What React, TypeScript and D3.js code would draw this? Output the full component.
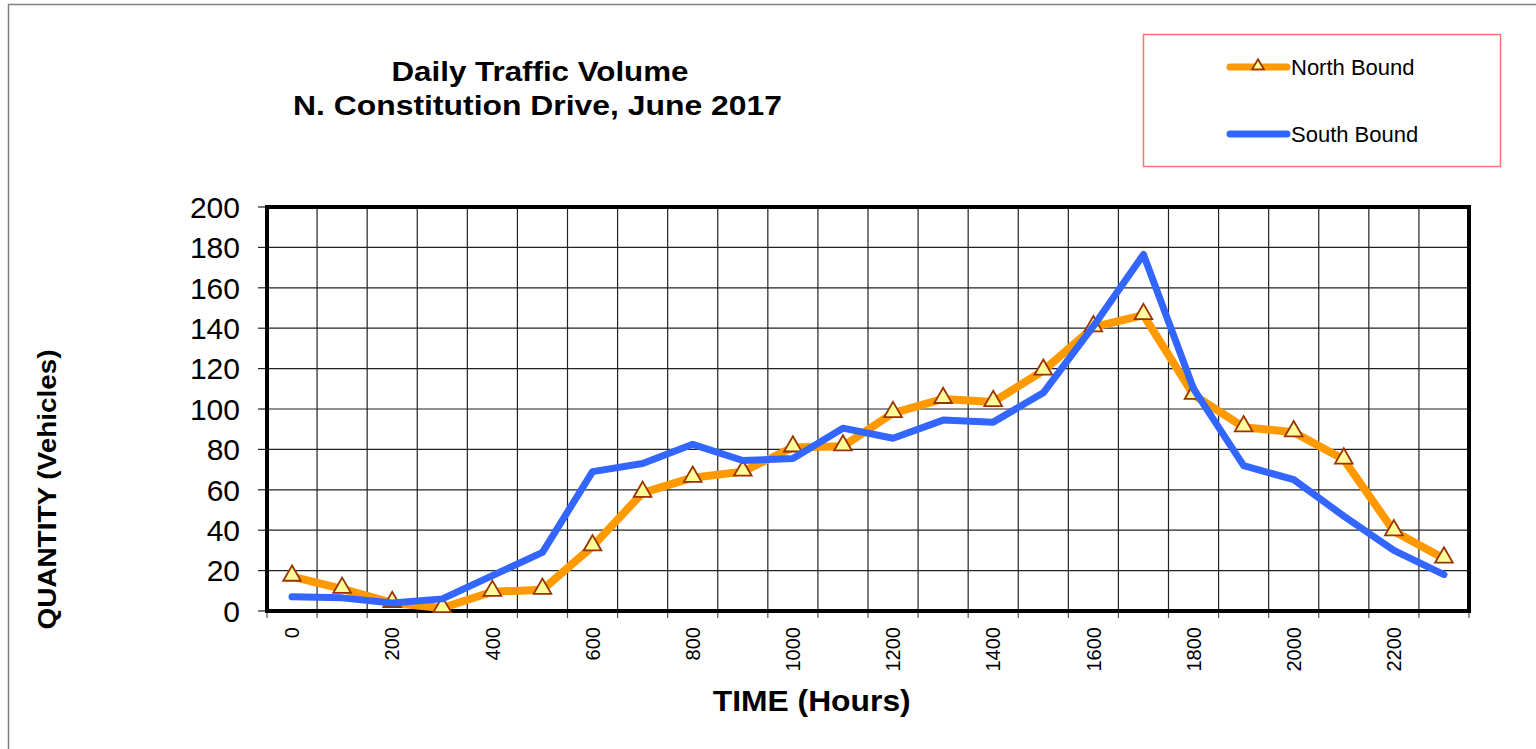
import React from "react";
import * as d3 from "d3";

const hours = ["0","100","200","300","400","500","600","700","800","900","1000","1100","1200","1300","1400","1500","1600","1700","1800","1900","2000","2100","2200","2300"];
const northBound = [17, 11, 4, 1.5, 9.5, 10.5, 32, 58.5, 66, 69, 81, 81.5, 98, 105, 103.5, 119, 140.5, 146.5, 107, 91, 88.5, 75, 39.5, 26];
const southBound = [7, 6.5, 4, 6, 17.5, 29, 69, 73, 82.5, 74.5, 75.5, 90.5, 85.5, 94.5, 93.5, 108, 141, 176.5, 110, 72, 65, 47, 30, 18];
const yTicks = [0, 20, 40, 60, 80, 100, 120, 140, 160, 180, 200];
const titleLines = ["Daily Traffic Volume", "N. Constitution Drive, June 2017"];
const seriesNames = ["North Bound", "South Bound"];

const FONT = "'Liberation Sans', Arial, Helvetica, sans-serif";
const ORANGE = "#ff9900";
const BLUE = "#3366ff";

export default function App() {
  const left = 267, right = 1469, top = 207, bottom = 611;
  const x = d3.scaleBand<string>().domain(hours).range([left, right]).padding(0);
  const y = d3.scaleLinear().domain([0, 200]).range([bottom, top]);
  const cx = (h: string) => (x(h) as number) + x.bandwidth() / 2;

  const line = d3
    .line<number>()
    .x((_, i) => cx(hours[i]))
    .y((d) => y(d));

  const tri = d3.symbol().type(d3.symbolTriangle).size(135);
  const triSmall = d3.symbol().type(d3.symbolTriangle).size(60);

  const boundaries = hours.map((h) => x(h) as number).concat([right]);

  return (
    <svg
      width={1536}
      height={749}
      style={{ position: "absolute", left: 0, top: 0, display: "block", background: "#fff" }}
      fontFamily={FONT}
    >
      <rect x={8.5} y={4.5} width={1600} height={800} fill="#fff" stroke="#7f7f7f" strokeWidth={1.5} />

      {/* title */}
      <text x={540} y={81} textAnchor="middle" fontSize={27.5} fontWeight="bold" textLength={297} lengthAdjust="spacingAndGlyphs">
        {titleLines[0]}
      </text>
      <text x={537.5} y={115} textAnchor="middle" fontSize={27.5} fontWeight="bold" textLength={489} lengthAdjust="spacingAndGlyphs">
        {titleLines[1]}
      </text>

      {/* grid */}
      {yTicks.map((t) => (
        <line key={"hg" + t} x1={left} x2={right} y1={y(t)} y2={y(t)} stroke="#222" strokeWidth={1.2} />
      ))}
      {boundaries.map((b, i) => (
        <line key={"vg" + i} x1={b} x2={b} y1={top} y2={bottom} stroke="#222" strokeWidth={1.2} />
      ))}

      {/* ticks */}
      {yTicks.map((t) => (
        <line key={"yt" + t} x1={left - 9} x2={left} y1={y(t)} y2={y(t)} stroke="#222" strokeWidth={1.2} />
      ))}
      {boundaries.map((b, i) => (
        <line key={"xt" + i} x1={b} x2={b} y1={bottom} y2={bottom + 7} stroke="#555" strokeWidth={1.2} />
      ))}

      {/* plot frame */}
      <rect x={left} y={top} width={right - left} height={bottom - top} fill="none" stroke="#000" strokeWidth={4} />

      {/* y labels */}
      {yTicks.map((t) => (
        <text key={"yl" + t} x={240} y={y(t)} dy="0.36em" textAnchor="end" fontSize={30}>
          {t}
        </text>
      ))}

      {/* x labels */}
      {hours.map((h, i) =>
        i % 2 === 0 ? (
          <text
            key={"xl" + h}
            transform={`translate(${cx(h)},627) rotate(-90)`}
            dy="0.36em"
            textAnchor="end"
            fontSize={20}
          >
            {h}
          </text>
        ) : null
      )}

      {/* series */}
      <path d={line(northBound) as string} fill="none" stroke={ORANGE} strokeWidth={8} strokeLinejoin="round" strokeLinecap="round" />
      {northBound.map((v, i) => (
        <path
          key={"m" + i}
          d={tri() as string}
          transform={`translate(${cx(hours[i])},${y(v) - 1})`}
          fill="#ffff99"
          stroke="#993300"
          strokeWidth={1.8}
        />
      ))}
      <path d={line(southBound) as string} fill="none" stroke={BLUE} strokeWidth={7} strokeLinejoin="round" strokeLinecap="round" />

      {/* axis titles */}
      <text x={811.7} y={711} textAnchor="middle" fontSize={30} fontWeight="bold" textLength={198} lengthAdjust="spacingAndGlyphs">
        TIME (Hours)
      </text>
      <text transform="translate(56,489.5) rotate(-90)" textAnchor="middle" fontSize={25} fontWeight="bold" textLength={280} lengthAdjust="spacingAndGlyphs">
        QUANTITY (Vehicles)
      </text>

      {/* legend */}
      <rect x={1143.5} y={34.5} width={357} height={132} fill="#fff" stroke="#ff7373" strokeWidth={1.5} />
      <line x1={1230} x2={1287} y1={67} y2={67} stroke={ORANGE} strokeWidth={7} strokeLinecap="round" />
      <path d={triSmall() as string} transform="translate(1258,66)" fill="#ffff99" stroke="#993300" strokeWidth={1.8} />
      <text x={1291} y={75} fontSize={22}>{seriesNames[0]}</text>
      <line x1={1230} x2={1287} y1={134} y2={134} stroke={BLUE} strokeWidth={7} strokeLinecap="round" />
      <text x={1291} y={141.7} fontSize={22}>{seriesNames[1]}</text>
    </svg>
  );
}
